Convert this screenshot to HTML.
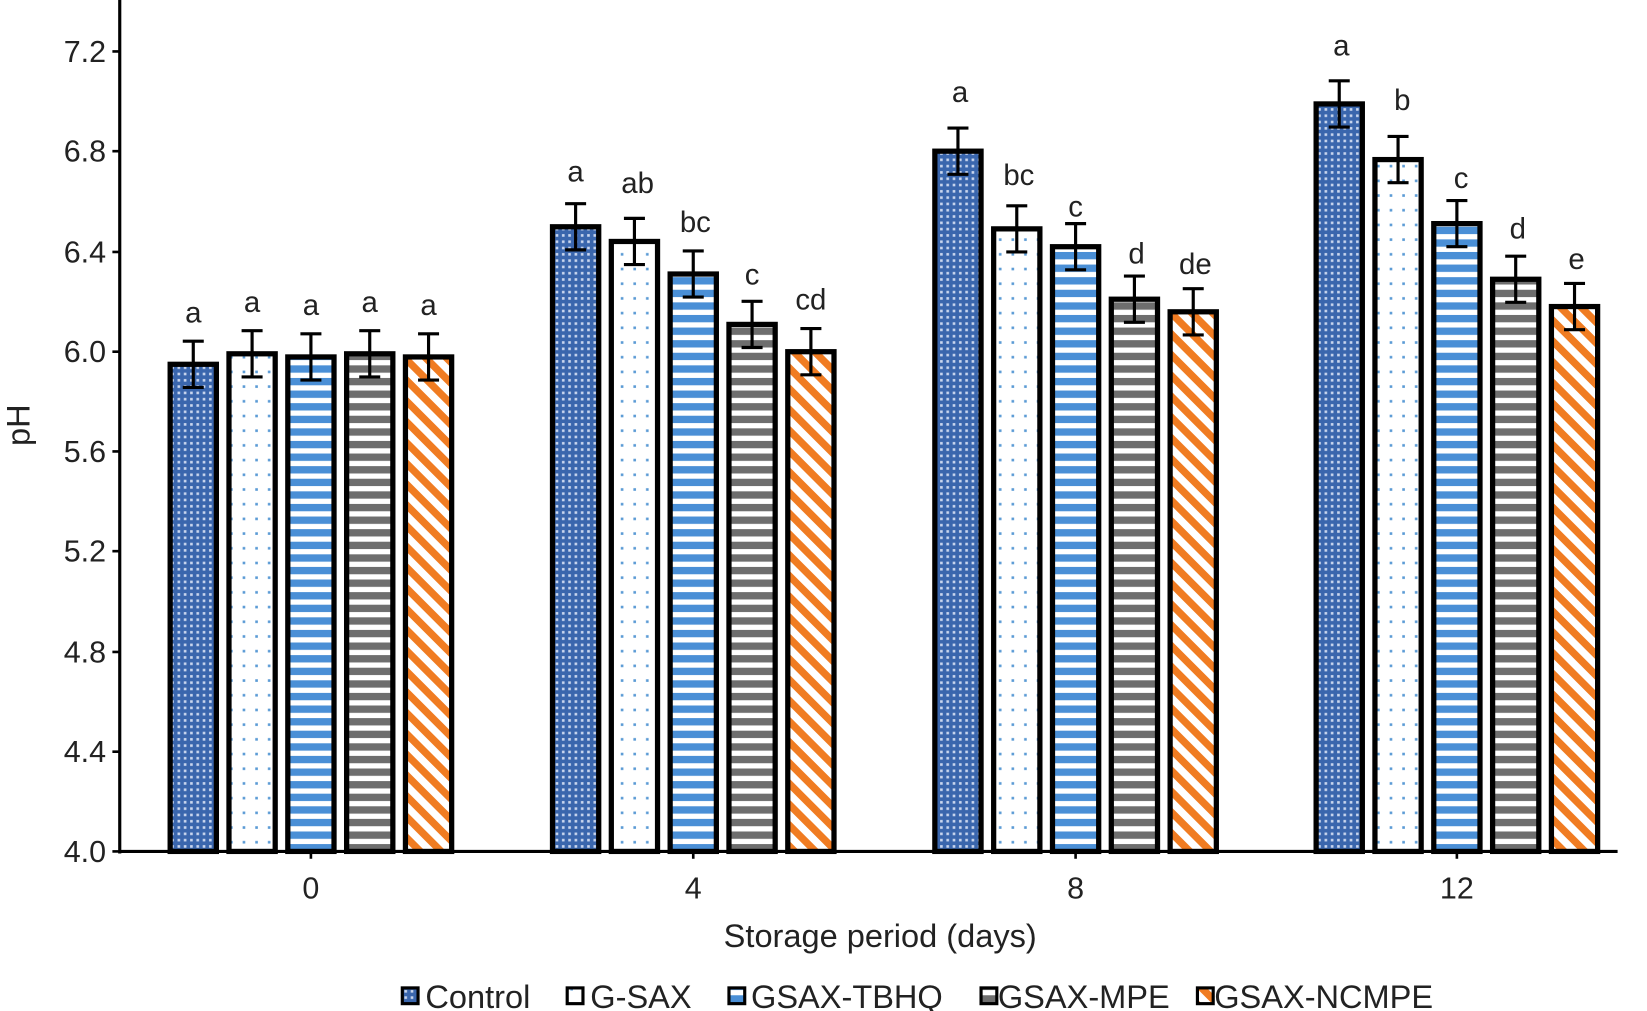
<!DOCTYPE html>
<html><head><meta charset="utf-8"><style>html,body{margin:0;padding:0;background:#fff}svg{display:block}</style></head>
<body>
<svg width="1647" height="1011" viewBox="0 0 1568 963" preserveAspectRatio="none" xmlns="http://www.w3.org/2000/svg" font-family="Liberation Sans, Arial, sans-serif">
<defs>
<pattern id="pc" width="6" height="6" patternUnits="userSpaceOnUse"><rect width="6" height="6" fill="#3a66ad"/><rect x="1" y="1" width="2.5" height="2.5" fill="#c9d6ee"/></pattern>
<pattern id="pg" width="12" height="14" patternUnits="userSpaceOnUse"><rect width="12" height="14" fill="#fff"/><rect x="3" y="3" width="2.5" height="2.5" fill="#5b9bd5"/></pattern>
<pattern id="pt" width="10" height="12" patternUnits="userSpaceOnUse"><rect width="10" height="12" fill="#fff"/><rect width="10" height="7" fill="#4a8fd6"/></pattern>
<pattern id="pm" width="10" height="12" patternUnits="userSpaceOnUse"><rect width="10" height="12" fill="#fff"/><rect width="10" height="7" fill="#6e6e6e"/></pattern>
<pattern id="pn" width="14" height="14" patternUnits="userSpaceOnUse" patternTransform="rotate(-45)"><rect width="14" height="14" fill="#fff"/><rect width="7" height="14" fill="#f07c22"/></pattern>
</defs>
<line x1="114" y1="0" x2="114" y2="813" stroke="#000" stroke-width="3"/>
<line x1="113" y1="811" x2="1540" y2="811" stroke="#000" stroke-width="3"/>
<g stroke="#000" stroke-width="2.5">
<line x1="107" y1="811" x2="114" y2="811"/><line x1="107" y1="716" x2="114" y2="716"/><line x1="107" y1="621" x2="114" y2="621"/><line x1="107" y1="525" x2="114" y2="525"/><line x1="107" y1="430" x2="114" y2="430"/><line x1="107" y1="335" x2="114" y2="335"/><line x1="107" y1="240" x2="114" y2="240"/><line x1="107" y1="144" x2="114" y2="144"/><line x1="107" y1="49" x2="114" y2="49"/>
<line x1="296" y1="811" x2="296" y2="818"/><line x1="660" y1="811" x2="660" y2="818"/><line x1="1024" y1="811" x2="1024" y2="818"/><line x1="1387" y1="811" x2="1387" y2="818"/>
</g>
<g font-size="29" fill="#222" text-anchor="end">
<text x="101" y="821">4.0</text><text x="101" y="726">4.4</text><text x="101" y="631">4.8</text><text x="101" y="535">5.2</text><text x="101" y="440">5.6</text><text x="101" y="345">6.0</text><text x="101" y="250">6.4</text><text x="101" y="154">6.8</text><text x="101" y="59">7.2</text>
</g>
<g font-size="29" fill="#222" text-anchor="middle">
<text x="296" y="856">0</text><text x="660" y="856">4</text><text x="1024" y="856">8</text><text x="1387" y="856">12</text>
<text x="838" y="902" font-size="31">Storage period (days)</text>
<text transform="translate(28,405) rotate(-90)" font-size="31">pH</text>
</g>
<g stroke="#000" stroke-width="5">
<rect x="162" y="347" width="44" height="464" fill="url(#pc)"/>
<rect x="218" y="337" width="44" height="474" fill="url(#pg)"/>
<rect x="274" y="340" width="44" height="471" fill="url(#pt)"/>
<rect x="330" y="337" width="44" height="474" fill="url(#pm)"/>
<rect x="386" y="340" width="44" height="471" fill="url(#pn)"/>
<rect x="526" y="216" width="44" height="595" fill="url(#pc)"/>
<rect x="582" y="230" width="44" height="581" fill="url(#pg)"/>
<rect x="638" y="261" width="44" height="550" fill="url(#pt)"/>
<rect x="694" y="309" width="44" height="502" fill="url(#pm)"/>
<rect x="750" y="335" width="44" height="476" fill="url(#pn)"/>
<rect x="890" y="144" width="44" height="667" fill="url(#pc)"/>
<rect x="946" y="218" width="44" height="593" fill="url(#pg)"/>
<rect x="1002" y="235" width="44" height="576" fill="url(#pt)"/>
<rect x="1058" y="285" width="44" height="526" fill="url(#pm)"/>
<rect x="1114" y="297" width="44" height="514" fill="url(#pn)"/>
<rect x="1253" y="99" width="44" height="712" fill="url(#pc)"/>
<rect x="1309" y="152" width="44" height="659" fill="url(#pg)"/>
<rect x="1365" y="213" width="44" height="598" fill="url(#pt)"/>
<rect x="1421" y="266" width="44" height="545" fill="url(#pm)"/>
<rect x="1477" y="292" width="44" height="519" fill="url(#pn)"/>
</g>
<g stroke="#000" stroke-width="3" fill="none">
<path d="M184 325V369M174 325H194M174 369H194"/>
<path d="M240 315V359M230 315H250M230 359H250"/>
<path d="M296 318V362M286 318H306M286 362H306"/>
<path d="M352 315V359M342 315H362M342 359H362"/>
<path d="M408 318V362M398 318H418M398 362H418"/>
<path d="M548 194V238M538 194H558M538 238H558"/>
<path d="M604 208V252M594 208H614M594 252H614"/>
<path d="M660 239V283M650 239H670M650 283H670"/>
<path d="M716 287V331M706 287H726M706 331H726"/>
<path d="M772 313V357M762 313H782M762 357H782"/>
<path d="M912 122V166M902 122H922M902 166H922"/>
<path d="M968 196V240M958 196H978M958 240H978"/>
<path d="M1024 213V257M1014 213H1034M1014 257H1034"/>
<path d="M1080 263V307M1070 263H1090M1070 307H1090"/>
<path d="M1136 275V319M1126 275H1146M1126 319H1146"/>
<path d="M1275 77V121M1265 77H1285M1265 121H1285"/>
<path d="M1331 130V174M1321 130H1341M1321 174H1341"/>
<path d="M1387 191V235M1377 191H1397M1377 235H1397"/>
<path d="M1443 244V288M1433 244H1453M1433 288H1453"/>
<path d="M1499 270V314M1489 270H1509M1489 314H1509"/>
</g>
<g font-size="28" fill="#222" text-anchor="middle">
<text x="184" y="307">a</text><text x="240" y="297">a</text><text x="296" y="300">a</text><text x="352" y="297">a</text><text x="408" y="300">a</text>
<text x="548" y="173">a</text><text x="607" y="184">ab</text><text x="662" y="221">bc</text><text x="716" y="271">c</text><text x="772" y="295">cd</text>
<text x="914" y="97">a</text><text x="970" y="176">bc</text><text x="1024" y="206">c</text><text x="1082" y="251">d</text><text x="1138" y="261">de</text>
<text x="1277" y="53">a</text><text x="1335" y="105">b</text><text x="1391" y="179">c</text><text x="1445" y="227">d</text><text x="1501" y="256">e</text>
</g>
<g stroke="#000" stroke-width="3">
<rect x="383" y="941" width="15" height="15" fill="url(#pc)"/>
<rect x="540" y="941" width="15" height="15" fill="url(#pg)"/>
<rect x="694" y="941" width="15" height="15" fill="url(#pt)"/>
<rect x="934" y="941" width="15" height="15" fill="url(#pm)"/>
<rect x="1140" y="941" width="15" height="15" fill="url(#pn)"/>
</g>
<g font-size="31" fill="#222">
<text x="405" y="960">Control</text><text x="562" y="960">G-SAX</text><text x="715" y="960">GSAX-TBHQ</text><text x="950" y="960">GSAX-MPE</text><text x="1156" y="960">GSAX-NCMPE</text>
</g>
</svg>
</body></html>
